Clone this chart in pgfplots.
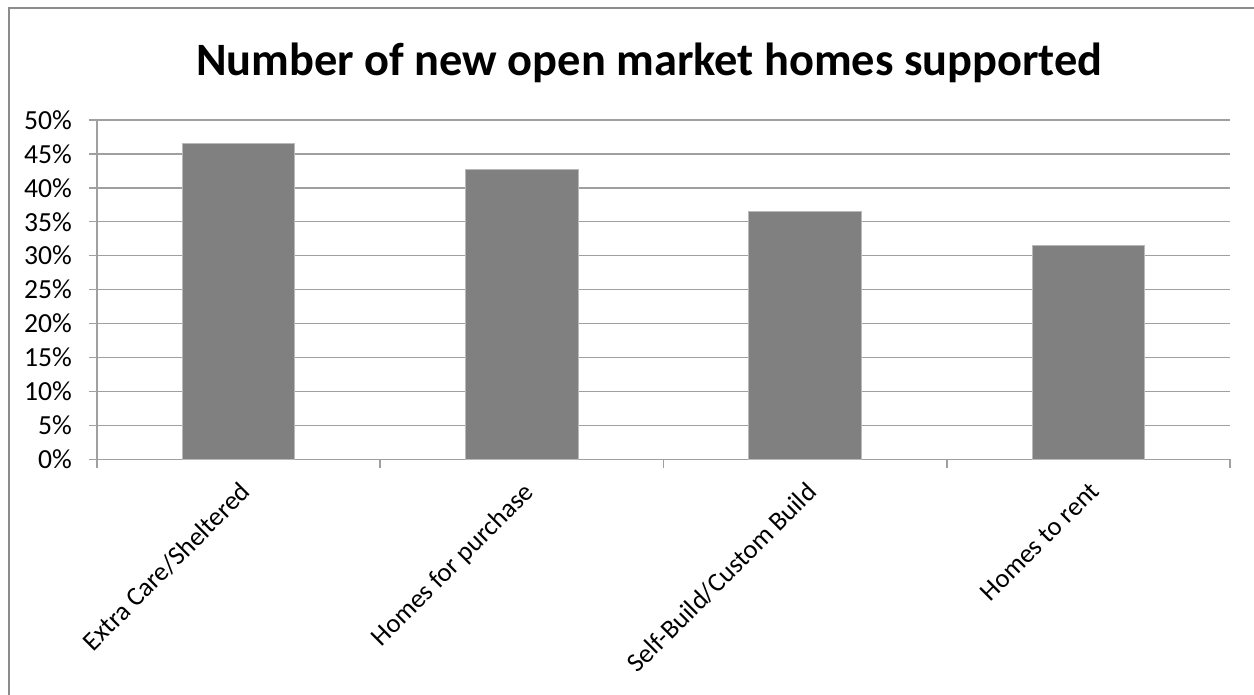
\documentclass[border=0pt]{standalone}
\usepackage{fontspec}
\setmainfont{Carlito}
\usepackage{pgfplots}
\pgfplotsset{compat=1.18}
\definecolor{barfill}{HTML}{808080}
\definecolor{gridc}{HTML}{A0A0A0}
\definecolor{framec}{HTML}{8C8C8C}
\begin{document}
\begin{tikzpicture}
\useasboundingbox (0pt,0pt) rectangle (627pt,347.5pt);
\draw[framec, line width=1pt] (4.5pt,0pt) -- (4.5pt,343.5pt) -- (627pt,343.5pt);
\node[font=\fontsize{23.2}{27}\selectfont\bfseries] at (324.75pt,316pt) {Number of new open market homes supported};
\begin{axis}[
  at={(48.5pt,117.85pt)}, anchor=south west,
  scale only axis, width=566.5pt, height=169.7pt,
  xmin=-0.5, xmax=3.5, ymin=0, ymax=50,
  axis x line*=bottom, axis y line*=left,
  axis line style={gridc, line width=0.75pt},
  ymajorgrids, grid style={gridc, line width=0.75pt},
  xtick={0,1,2,3},
  xticklabels={Extra Care/Sheltered, Homes for purchase, Self-Build/Custom Build, Homes to rent},
  x tick label style={rotate=45, anchor=north east, font=\fontsize{13.3}{15}\selectfont, inner sep=1pt},
  minor xtick={-0.5,0.5,1.5,2.5,3.5},
  major x tick style={draw=none},
  minor tick length=4.5pt,
  ytick={0,5,...,50},
  yticklabel={\pgfmathprintnumber{\tick}\%},
  y tick label style={font=\fontsize{13.8}{15}\selectfont, xshift=-5pt},
  /pgf/number format/assume math mode=true,
  tick align=outside, major tick length=4pt,
  tick style={gridc, line width=0.75pt},
  xticklabel shift=5pt,
]
\addplot[ybar, bar width=56.25pt, fill=barfill, draw=gray!55, line width=0.5pt]
  coordinates {(0,46.5) (1,42.7) (2,36.45) (3,31.45)};
\end{axis}
\end{tikzpicture}
\end{document}
